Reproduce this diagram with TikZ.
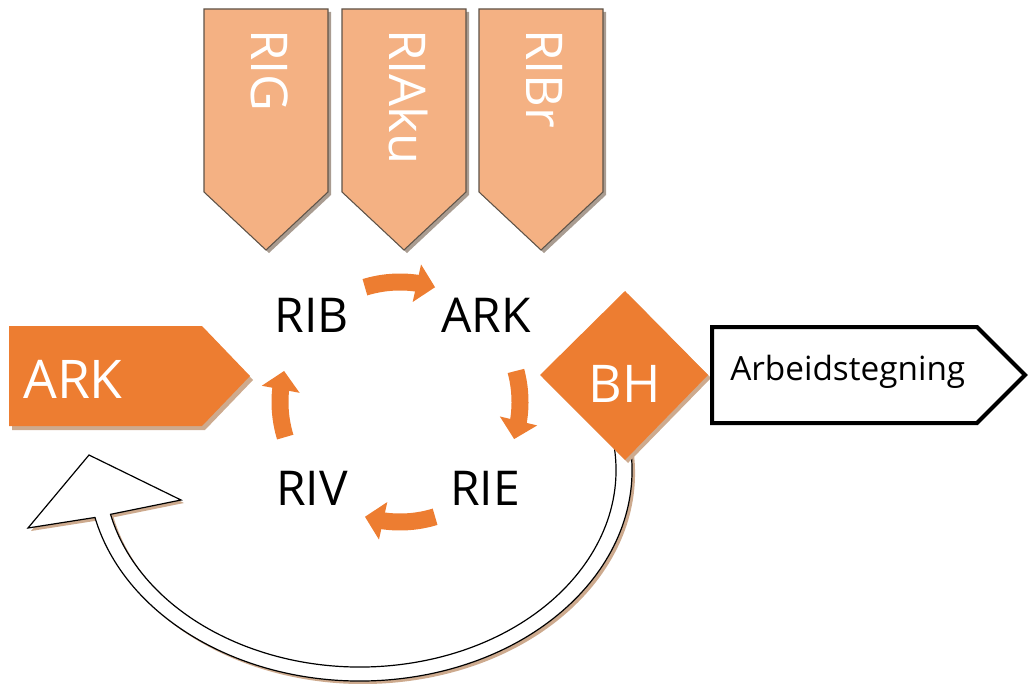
\documentclass[tikz,border=0pt]{standalone}
\usepackage{fontspec}
\setmainfont{Open Sans}
\usetikzlibrary{arrows.meta,bending,calc}
\definecolor{orangeA}{HTML}{ED7D31}
\definecolor{peach}{HTML}{F4B183}
\definecolor{tanshadow}{HTML}{CDAA8E}
\definecolor{edgegray}{HTML}{5E5348}
\definecolor{darkshadow}{HTML}{8C7B6C}

\begin{document}
\begin{tikzpicture}[x=0.75pt,y=-0.75pt,
  cyclbl/.style={inner sep=0pt,font=\fontsize{36}{40}\selectfont,text=black},
  tablbl/.style={inner sep=0pt,font=\fontsize{38}{40}\selectfont,text=white,rotate=-90,anchor=base west},
  whitelbl/.style={inner sep=0pt,text=white},
  cycarrow/.style={orangeA,line width=12.75pt,-{Triangle[width=28pt,length=14pt]}},
  tabshape/.style={fill=peach,draw=edgegray,line width=0.8pt},
  tabshadow/.style={fill=darkshadow,opacity=0.75},
  softshadow/.style={fill=tanshadow}]
\useasboundingbox (0,0) rectangle (1030,684);

% downward tabs along the top
\foreach \xl/\txt/\nm in {204/RIG/rig,342/RIAku/riaku,479/RIBr/ribr}{
  \path[tabshadow] (\xl+3,12) -- ++(124,0) -- ++(0,183) -- ++(-62,58) -- ++(-62,-58) -- cycle;
  \path[tabshape] (\xl,9) -- ++(124,0) -- ++(0,183) -- ++(-62,58) -- ++(-62,-58) -- cycle;
  \node[tablbl] (\nm) at (\xl+47,29) {\txt};
}

% left input tab
\path[softshadow] (12,330) -- (205,330) -- (253,380) -- (205,430) -- (12,430) -- cycle;
\path[fill=orangeA] (9,326) -- (202,326) -- (250,376) -- (202,426) -- (9,426) -- cycle;
\node[whitelbl,font=\fontsize{40}{44}\selectfont,anchor=base] (arkin) at (73,398) {ARK};

% return arrow (hollow)
\coordinate (uc) at (360,470);
\path[softshadow] ($(uc)+(3,3)$) ++(-10:272 and 211)
  arc[start angle=-10,end angle=167,x radius=272,y radius=211]
  -- (31,531) -- (92,458) -- (184,503) -- ($(uc)+(3,3)+(167:256 and 197)$)
  arc[start angle=167,end angle=-10,x radius=256,y radius=197] -- cycle;
\draw[fill=white,line width=0.9pt,line join=miter] (uc) ++(-10:272 and 211)
  arc[start angle=-10,end angle=167,x radius=272,y radius=211]
  -- (28,528) -- (89,455) -- (181,500) -- ($(uc)+(167:256 and 197)$)
  arc[start angle=167,end angle=-10,x radius=256,y radius=197] -- cycle;

% decision diamond
\path[softshadow] (628,294) -- (711,378) -- (628,463) -- (543,378) -- cycle;
\path[fill=orangeA] (625,291) -- (708,375) -- (625,460) -- (540,375) -- cycle;
\node[whitelbl,font=\fontsize{39}{44}\selectfont,anchor=base] (bh) at (625,402) {BH};

% output tab
\draw[fill=white,line width=3pt,line join=miter] (712,327) -- (977,327) -- (1025,375) -- (977,423) -- (712,423) -- cycle;
\node[inner sep=0pt,font=\fontsize{25}{30}\selectfont,anchor=base west] (out) at (730,380) {Arbeidstegning};

% review cycle
\coordinate (cyc) at (400,402);
\node[cyclbl,anchor=base] (rib) at (312,332) {RIB};
\node[cyclbl,anchor=base] (ark) at (486,332) {ARK};
\node[cyclbl,anchor=base] (rie) at (485,505) {RIE};
\node[cyclbl,anchor=base] (riv) at (312,505) {RIV};
\draw[cycarrow] (cyc) ++(-107:120) arc[start angle=-107,end angle=-73,radius=120];
\draw[cycarrow] (cyc) ++(-15:120) arc[start angle=-15,end angle=18,radius=120];
\draw[cycarrow] (cyc) ++(73:120) arc[start angle=73,end angle=107,radius=120];
\draw[cycarrow] (cyc) ++(163:120) arc[start angle=163,end angle=195,radius=120];
\end{tikzpicture}
\end{document}
